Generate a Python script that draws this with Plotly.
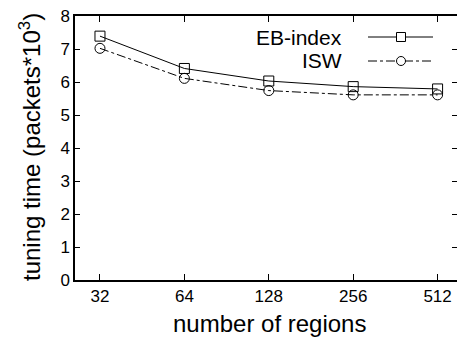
import plotly.graph_objects as go

categories = ["32", "64", "128", "256", "512"]
eb_index = [7.39, 6.41, 6.03, 5.86, 5.79]
isw = [7.02, 6.11, 5.74, 5.61, 5.61]
series_names = ["EB-index", "ISW"]
y_ticks = [0, 1, 2, 3, 4, 5, 6, 7, 8]
x_title = "number of regions"
y_title = "tuning time (packets*10<sup>3</sup>)"

FONT = "Liberation Sans"

fig = go.Figure()
fig.add_trace(go.Scatter(
    x=categories, y=eb_index, mode="lines+markers", name=series_names[0],
    line=dict(color="black", width=1, dash="solid"),
    marker=dict(symbol="square-open", size=10, color="black", line=dict(width=1)),
    showlegend=False,
))
fig.add_trace(go.Scatter(
    x=categories, y=isw, mode="lines+markers", name=series_names[1],
    line=dict(color="black", width=1, dash="dashdot"),
    marker=dict(symbol="circle-open", size=10, color="black", line=dict(width=1)),
    showlegend=False,
))
# invisible trace for right-side ticks
fig.add_trace(go.Scatter(x=[categories[0]], y=[0], yaxis="y2", mode="markers",
                         marker=dict(opacity=0), showlegend=False, hoverinfo="skip"))

fig.update_layout(
    width=457, height=338,
    margin=dict(l=75, r=0, t=16, b=58, autoexpand=False),
    paper_bgcolor="white", plot_bgcolor="white",
    font=dict(family=FONT, color="black", size=17),
    xaxis=dict(
        type="category", range=[-0.296, 4.23], automargin=False,
        showgrid=False, zeroline=False,
        showline=True, linecolor="black", linewidth=1.5, mirror="ticks",
        ticks="inside", ticklen=6, tickwidth=1, tickcolor="black",
        tickfont=dict(size=17),
    ),
    yaxis=dict(
        range=[0, 8], tickvals=y_ticks, automargin=False,
        showgrid=False, zeroline=False,
        showline=True, linecolor="black", linewidth=1.5, mirror=False,
        ticks="inside", ticklen=5, tickwidth=1, tickcolor="black",
        tickfont=dict(size=17),
    ),
    yaxis2=dict(
        overlaying="y", side="right", range=[0, 8], tickvals=y_ticks, automargin=False,
        showgrid=False, zeroline=False, showline=False, showticklabels=False,
        ticks="inside", ticklen=5, tickwidth=1, tickcolor="black",
    ),
)

def px_to_paper_x(px):
    return (px - 75) / 382.0

def px_to_paper_y(py):
    return (280 - py) / 264.0

# axis titles
fig.add_annotation(xref="paper", yref="paper", x=px_to_paper_x(269), y=px_to_paper_y(339),
                   text=x_title, showarrow=False, xanchor="center", yanchor="bottom",
                   font=dict(size=24, family=FONT, color="black"))
fig.add_annotation(xref="paper", yref="paper", x=px_to_paper_x(30), y=px_to_paper_y(147),
                   text=y_title, showarrow=False, xanchor="center", yanchor="middle",
                   textangle=-90, font=dict(size=24, family=FONT, color="black"))

# manual gnuplot-style key (text right, sample left->right)
rows = [(37, "solid", "square"), (61, "dashdot", "circle")]
for name, (ry, dash, sym) in zip(series_names, rows):
    yp = px_to_paper_y(ry)
    fig.add_annotation(xref="paper", yref="paper", x=px_to_paper_x(344), y=yp,
                       text=name, showarrow=False, xanchor="right", yanchor="middle",
                       font=dict(size=21, family=FONT, color="black"))
    fig.add_shape(type="line", xref="paper", yref="paper",
                  x0=px_to_paper_x(368), x1=px_to_paper_x(433), y0=yp, y1=yp,
                  line=dict(color="black", width=1, dash=dash))
    hw, hh = 4.5 / 382.0, 4.5 / 264.0
    cx = px_to_paper_x(401)
    shape_type = "rect" if sym == "square" else "circle"
    fig.add_shape(type=shape_type, xref="paper", yref="paper",
                  x0=cx - hw, x1=cx + hw, y0=yp - hh, y1=yp + hh,
                  line=dict(color="black", width=1), fillcolor="white")

fig.write_html("out.html", config={"displayModeBar": False},
               post_script="document.body.style.margin='0';document.body.style.overflow='hidden';")
